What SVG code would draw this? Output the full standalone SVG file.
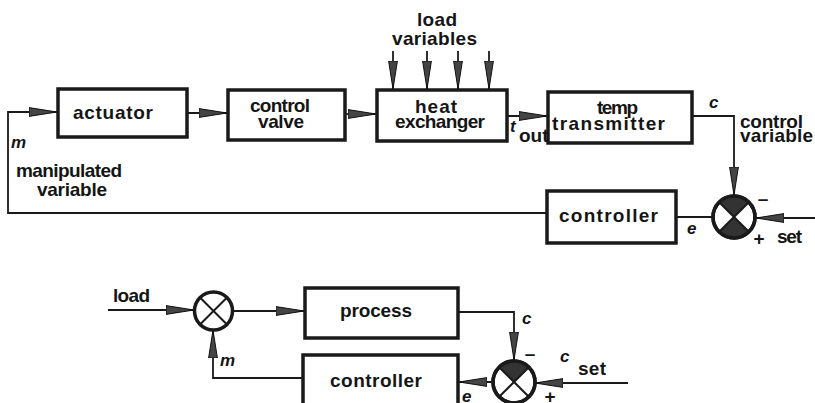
<svg xmlns="http://www.w3.org/2000/svg" width="815" height="403" viewBox="0 0 815 403">
<style>
.box{fill:#fff;stroke:#1a1a1a;stroke-width:3.5}
.ln{fill:none;stroke:#1a1a1a;stroke-width:1.8}
.arr{marker-end:url(#ah)}
.t{font-family:"Liberation Sans",Arial,sans-serif;font-weight:bold;font-size:19px;fill:#151515}
.i{font-family:"Liberation Sans",Arial,sans-serif;font-weight:bold;font-style:italic;font-size:17px;fill:#151515}
.sum{fill:#fff;stroke:#1a1a1a;stroke-width:3.5}
.q{fill:#333}
.x{stroke:#1a1a1a;stroke-width:2}
</style>
<defs>
<marker id="ah" viewBox="0 0 28 10" refX="28" refY="5" markerWidth="28" markerHeight="10" markerUnits="userSpaceOnUse" orient="auto">
<path d="M0,0.6 L28,5 L0,9.4 Z" fill="#444" stroke="#111" stroke-width="1"/>
</marker>
</defs>
<rect width="815" height="403" fill="#fff"/>

<g id="connectors">
<polyline class="ln arr" points="547,213 8,213 8,112 57,112"/>
<line class="ln arr" x1="188" y1="113" x2="227" y2="113"/>
<line class="ln arr" x1="346" y1="114" x2="376" y2="114"/>
<line class="ln arr" x1="508" y1="116" x2="547" y2="116"/>
<polyline class="ln arr" points="693,116 734,116 734,195"/>
<line class="ln" x1="713" y1="217" x2="677" y2="217"/>
<line class="ln arr" x1="815" y1="218" x2="756" y2="218"/>
<line class="ln arr" x1="393" y1="51" x2="393" y2="89"/>
<line class="ln arr" x1="427" y1="51" x2="427" y2="89"/>
<line class="ln arr" x1="458" y1="51" x2="458" y2="89"/>
<line class="ln arr" x1="489" y1="51" x2="489" y2="89"/>

<line class="ln arr" x1="108" y1="310" x2="194" y2="310"/>
<line class="ln arr" x1="233" y1="311" x2="304" y2="311"/>
<polyline class="ln arr" points="459,312 514,312 514,360"/>
<line class="ln arr" x1="628" y1="383" x2="535" y2="383"/>
<line class="ln arr" x1="493" y1="382" x2="459" y2="382"/>
<polyline class="ln arr" points="303,378 213,378 213,330"/>
</g>

<g id="actuator">
<rect class="box" x="58" y="89" width="129" height="48"/>
<text class="t" x="73" y="119" textLength="80" lengthAdjust="spacing">actuator</text>
</g>
<g id="control-valve">
<rect class="box" x="228" y="90" width="117" height="50"/>
<text class="t" x="250" y="112" textLength="60" lengthAdjust="spacing">control</text>
<text class="t" x="258" y="128" textLength="46" lengthAdjust="spacing">valve</text>
</g>
<g id="heat-exchanger">
<rect class="box" x="377" y="90" width="130" height="51"/>
<text class="t" x="415" y="113" textLength="42" lengthAdjust="spacing">heat</text>
<text class="t" x="395" y="128" textLength="90" lengthAdjust="spacing">exchanger</text>
</g>
<g id="temp-transmitter">
<rect class="box" x="548" y="92" width="144" height="51"/>
<text class="t" x="597" y="114" textLength="41" lengthAdjust="spacing">temp</text>
<text class="t" x="552" y="130" textLength="113" lengthAdjust="spacing">transmitter</text>
</g>
<g id="controller-top">
<rect class="box" x="547" y="191" width="129" height="52"/>
<text class="t" x="559" y="222" textLength="99" lengthAdjust="spacing">controller</text>
</g>
<g id="sum-top">
<circle class="sum" cx="734" cy="217" r="21"/>
<path class="q" d="M734,217 L719.2,202.2 A21,21 0 0 1 748.8,202.2 Z"/>
<path class="q" d="M734,217 L719.2,231.8 A21,21 0 0 0 748.8,231.8 Z"/>
<line class="x" x1="719.2" y1="202.2" x2="748.8" y2="231.8"/>
<line class="x" x1="748.8" y1="202.2" x2="719.2" y2="231.8"/>
<circle cx="734" cy="217" r="21" fill="none" stroke="#1a1a1a" stroke-width="3.5"/>
</g>
<g id="labels-top">
<text class="t" x="417" y="26" textLength="40" lengthAdjust="spacing">load</text>
<text class="t" x="392" y="45" textLength="85" lengthAdjust="spacing">variables</text>
<text class="i" x="510" y="132" font-size="19">t</text>
<text class="t" x="519" y="142" font-size="14">out</text>
<text class="i" x="709" y="108">c</text>
<text class="t" x="740" y="128" textLength="63" lengthAdjust="spacing">control</text>
<text class="t" x="740" y="142" textLength="73" lengthAdjust="spacing">variable</text>
<text class="i" x="11" y="148">m</text>
<text class="t" x="16" y="177" textLength="106" lengthAdjust="spacing">manipulated</text>
<text class="t" x="37" y="196" textLength="70" lengthAdjust="spacing">variable</text>
<text class="i" x="687" y="234">e</text>
<text class="t" x="763" y="205" text-anchor="middle">–</text>
<text class="t" x="759" y="245" text-anchor="middle">+</text>
<text class="t" x="777" y="243" textLength="25" lengthAdjust="spacing">set</text>
</g>

<g id="sum-load">
<circle class="sum" cx="213.5" cy="311" r="19"/>
<line class="x" x1="200" y1="297.5" x2="227" y2="324.5"/>
<line class="x" x1="227" y1="297.5" x2="200" y2="324.5"/>
</g>
<g id="process">
<rect class="box" x="305" y="288" width="153" height="50"/>
<text class="t" x="340" y="317" textLength="72" lengthAdjust="spacing">process</text>
</g>
<g id="controller-bottom">
<rect class="box" x="303" y="355" width="155" height="52"/>
<text class="t" x="330" y="387" textLength="92" lengthAdjust="spacing">controller</text>
</g>
<g id="sum-bottom">
<circle class="sum" cx="514" cy="382" r="21"/>
<path class="q" d="M514,382 L499.2,367.2 A21,21 0 0 1 528.8,367.2 Z"/>
<line class="x" x1="499.2" y1="367.2" x2="528.8" y2="396.8"/>
<line class="x" x1="528.8" y1="367.2" x2="499.2" y2="396.8"/>
<circle cx="514" cy="382" r="21" fill="none" stroke="#1a1a1a" stroke-width="3.5"/>
</g>
<g id="labels-bottom">
<text class="t" x="113" y="302" textLength="37" lengthAdjust="spacing">load</text>
<text class="i" x="522" y="324">c</text>
<text class="t" x="530" y="360" text-anchor="middle">–</text>
<text class="i" x="560" y="362">c</text>
<text class="t" x="578" y="375" textLength="28" lengthAdjust="spacing">set</text>
<text class="t" x="550" y="403" text-anchor="middle">+</text>
<text class="i" x="462" y="402">e</text>
<text class="i" x="220" y="366">m</text>
</g>
</svg>
